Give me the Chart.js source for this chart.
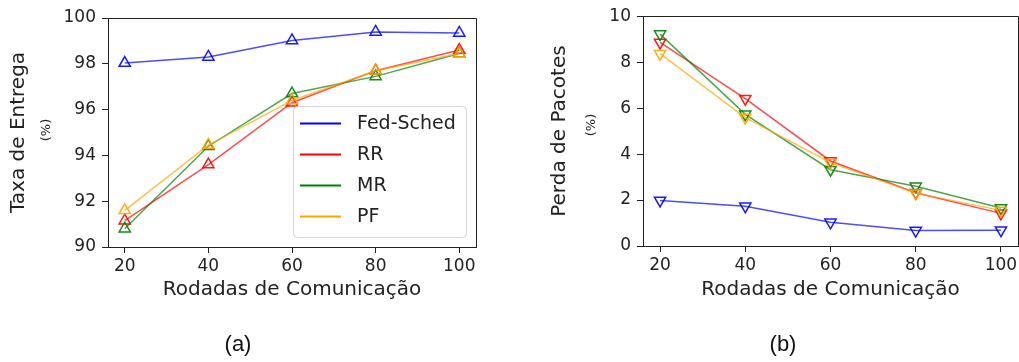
<!DOCTYPE html>
<html>
<head>
<meta charset="utf-8">
<script src="https://cdn.jsdelivr.net/npm/chart.js@4.4.1/dist/chart.umd.min.js"></script>
<style>
  html, body { margin: 0; padding: 0; background: #fff; }
  body { width: 1019px; height: 362px; overflow: hidden; position: relative; }
  canvas { position: absolute; top: 0; }
  #chartA { left: 0; }
  #chartB { left: 520px; }
  .cap { position: absolute; top: 331px; font: 22px "Liberation Sans", Arial, sans-serif; color: #111; transform: translateX(-50%); }
</style>
</head>
<body>
<canvas id="chartA" width="500" height="362"></canvas>
<canvas id="chartB" width="540" height="362"></canvas>
<div class="cap" style="left:238px">(a)</div>
<div class="cap" style="left:783px">(b)</div>
<script>
// rounds on the x axis
const rounds = [20, 40, 60, 80, 100];
const seriesNames = ['Fed-Sched', 'RR', 'MR', 'PF'];

// (a) Taxa de Entrega (%)
const entregaFed = [98.03, 98.3, 99.02, 99.39, 99.35];
const entregaRR = [91.15, 93.6, 96.3, 97.7, 98.6];
const entregaMR = [90.8, 94.4, 96.7, 97.45, 98.45];
const entregaPF = [91.6, 94.45, 96.4, 97.7, 98.45];
const entregaTicks = [90, 92, 94, 96, 98, 100];

// (b) Perda de Pacotes (%)
const perdaFed = [1.98, 1.73, 1.03, 0.67, 0.69];
const perdaRR = [8.86, 6.41, 3.7, 2.32, 1.42];
const perdaMR = [9.22, 5.73, 3.32, 2.6, 1.65];
const perdaPF = [8.37, 5.59, 3.63, 2.3, 1.55];
const perdaTicks = [0, 2, 4, 6, 8, 10];

const rgbs = ['0,0,255', '255,0,0', '0,128,0', '255,165,0'];
const FONT = '"DejaVu Sans", sans-serif';
const INK = '#222';

function makeDataset(i, values, rotation) {
  return {
    label: seriesNames[i],
    rgb: rgbs[i],
    data: rounds.map((r, k) => ({ x: r, y: values[k] })),
    borderColor: `rgba(${rgbs[i]},0.7)`,
    borderWidth: 1.5,
    pointStyle: 'triangle',
    pointRotation: rotation,
    pointRadius: 6.5,
    pointBorderWidth: 1.5,
    pointBorderColor: `rgba(${rgbs[i]},0.9)`,
    pointBackgroundColor: 'rgba(0,0,0,0)',
    tension: 0,
    order: 4 - i // later series drawn on top
  };
}

// top + right spines, plus the small "(%)" under the y title
const framePlugin = {
  id: 'frame',
  afterDraw(chart, args, opts) {
    const { ctx, chartArea: a } = chart;
    ctx.save();
    ctx.strokeStyle = INK;
    ctx.lineWidth = 1;
    ctx.beginPath();
    ctx.moveTo(Math.round(a.left) + 0.5, Math.round(a.top) + 0.5);
    ctx.lineTo(Math.round(a.right) + 0.5, Math.round(a.top) + 0.5);
    ctx.lineTo(Math.round(a.right) + 0.5, Math.round(a.bottom) + 0.5);
    ctx.stroke();
    ctx.translate(opts.pctX, opts.pctY);
    ctx.rotate(-Math.PI / 2);
    ctx.fillStyle = INK;
    ctx.font = '13px ' + FONT;
    ctx.textAlign = 'center';
    ctx.textBaseline = 'middle';
    ctx.fillText('(%)', 0, 0);
    ctx.restore();
  }
};

// legend drawn inside the plot, lower right
const insideLegend = {
  id: 'insideLegend',
  afterDraw(chart, args, opts) {
    if (!opts.show) return;
    const { ctx, chartArea: a } = chart;
    const w = 173, h = 131;
    const x0 = a.right - 10 - w, y0 = a.bottom - 10 - h;
    ctx.save();
    ctx.beginPath();
    ctx.roundRect(x0 + 0.5, y0 + 0.5, w, h, 4);
    ctx.fillStyle = 'rgba(255,255,255,0.8)';
    ctx.fill();
    ctx.strokeStyle = '#d6d6d6';
    ctx.lineWidth = 1;
    ctx.stroke();
    ctx.font = '19px ' + FONT;
    ctx.textBaseline = 'middle';
    chart.data.datasets.forEach((ds, i) => {
      const y = y0 + 17.5 + i * 31;
      ctx.strokeStyle = `rgb(${ds.rgb})`;
      ctx.lineWidth = 2;
      ctx.beginPath();
      ctx.moveTo(x0 + 7, y);
      ctx.lineTo(x0 + 48, y);
      ctx.stroke();
      ctx.fillStyle = INK;
      ctx.fillText(ds.label, x0 + 64, y + 1);
    });
    ctx.restore();
  }
};

function makeChart(id, sets, yTicks, yTitle, area, cfg) {
  const canvas = document.getElementById(id);
  const W = canvas.width, H = canvas.height;
  return new Chart(canvas.getContext('2d'), {
    type: 'line',
    data: { datasets: sets },
    plugins: [framePlugin, insideLegend],
    options: {
      responsive: false,
      animation: false,
      layout: { padding: { left: 0, top: area.top, right: W - area.right, bottom: 0 } },
      plugins: {
        legend: { display: false },
        tooltip: { enabled: false },
        frame: { pctX: cfg.pctX, pctY: cfg.pctY },
        insideLegend: { show: cfg.legend }
      },
      scales: {
        x: {
          type: 'linear',
          min: 16,
          max: 104,
          afterBuildTicks: s => { s.ticks = rounds.map(v => ({ value: v })); },
          afterFit: s => { s.height = H - area.bottom; },
          grid: { drawOnChartArea: false, tickLength: 6, color: INK },
          border: { color: INK, width: 1 },
          ticks: { font: { family: FONT, size: 17 }, color: INK, padding: 3, maxRotation: 0 },
          title: {
            display: true,
            text: 'Rodadas de Comunicação',
            font: { family: FONT, size: 20 },
            color: INK,
            padding: { top: 0, bottom: 60 }
          }
        },
        y: {
          min: yTicks[0],
          max: yTicks[yTicks.length - 1],
          afterBuildTicks: s => { s.ticks = yTicks.map(v => ({ value: v })); },
          afterFit: s => { s.width = area.left; },
          grid: { drawOnChartArea: false, tickLength: 6, color: INK },
          border: { color: INK, width: 1 },
          ticks: { font: { family: FONT, size: 17 }, color: INK, padding: 6 },
          title: {
            display: true,
            text: yTitle,
            font: { family: FONT, size: 20 },
            color: INK,
            padding: { top: cfg.titlePad, bottom: 0 }
          }
        }
      }
    }
  });
}

makeChart('chartA', [
  makeDataset(0, entregaFed, 0),
  makeDataset(1, entregaRR, 0),
  makeDataset(2, entregaMR, 0),
  makeDataset(3, entregaPF, 0)
], entregaTicks, 'Taxa de Entrega',
  { left: 108, right: 476, top: 18, bottom: 247 },
  { pctX: 47, pctY: 130, titlePad: 7, legend: true });

makeChart('chartB', [
  makeDataset(0, perdaFed, 180),
  makeDataset(1, perdaRR, 180),
  makeDataset(2, perdaMR, 180),
  makeDataset(3, perdaPF, 180)
], perdaTicks, 'Perda de Pacotes',
  { left: 123, right: 498, top: 12, bottom: 246 },
  { pctX: 72, pctY: 125, titlePad: 28, legend: false });
</script>
</body>
</html>
